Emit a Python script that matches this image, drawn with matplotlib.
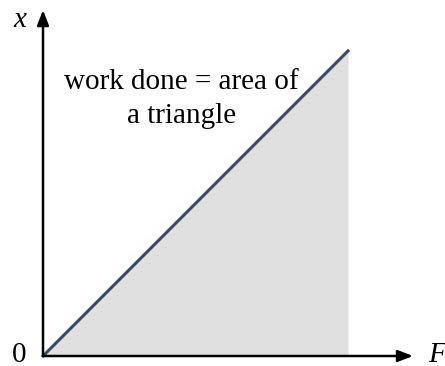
import matplotlib
matplotlib.use('Agg')
import matplotlib.pyplot as plt

# force and extension, proportional (Hooke's law)
force = [0.0, 1.0]
extension = [0.0, 1.0]
annotation_lines = ["work done = area of", "a triangle"]

plt.rcParams['font.family'] = ['Liberation Serif', 'DejaVu Serif']

fig = plt.figure(figsize=(4.45, 3.66), dpi=100)
ax = fig.add_axes([0, 0, 1, 1])
ax.set_xlim(-0.141, 1.318)
ax.set_ylim(-0.0328, 1.167)
ax.axis('off')

# shaded triangle under the line
ax.fill_between(force, 0, extension, color='#e0e0e0', linewidth=0, zorder=1)
ax.plot(force, extension, color='#3b4a6b', linewidth=2.2, zorder=3)

# axes with arrow heads
arrow = dict(arrowstyle='-|>,head_length=0.9,head_width=0.35', color='black',
             linewidth=1.8, shrinkA=0, shrinkB=0)
ax.annotate('', xy=(1.213, 0), xytext=(0, 0), arrowprops=arrow, zorder=4)
ax.annotate('', xy=(0, 1.134), xytext=(0, 0), arrowprops=arrow, zorder=4)

ax.text(-0.075, 1.100, 'x', fontsize=21, style='italic', ha='center', va='center')
ax.text(1.293, 0.003, 'F', fontsize=21, style='italic', ha='center', va='center')
ax.text(-0.077, 0.003, '0', fontsize=21, ha='center', va='center')

# two-line label, baselines set one line apart
for i, line in enumerate(annotation_lines):
    ax.text(0.455, 0.875 - 0.111 * i, line, fontsize=21, ha='center', va='baseline')

fig.savefig('out.png', dpi=100)
